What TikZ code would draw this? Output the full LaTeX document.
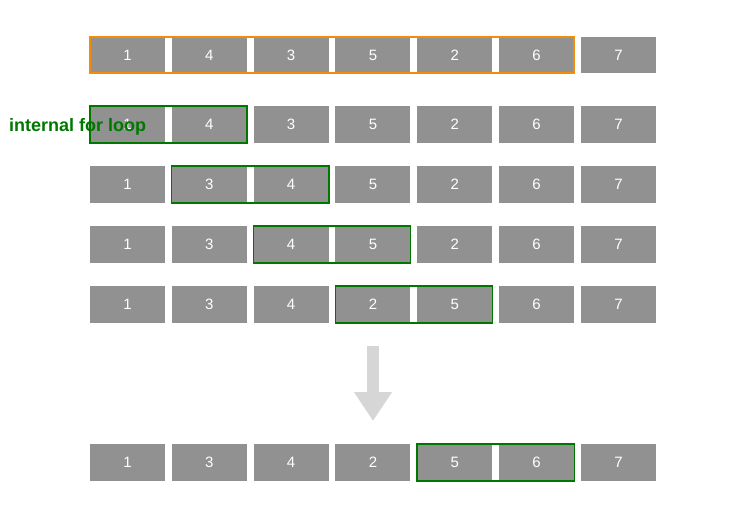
\documentclass[tikz,border=0pt]{standalone}
\usepackage{fontspec}
\setmainfont{Liberation Sans}
\usetikzlibrary{arrows.meta}

\definecolor{cellgray}{RGB}{145,145,145}
\definecolor{outerorange}{RGB}{242,140,10}
\definecolor{loopgreen}{RGB}{0,120,0}
\definecolor{arrowgray}{RGB}{214,214,214}

\tikzset{
  cell/.style={fill=cellgray, text=white, minimum width=75pt, minimum height=36.5pt,
    inner sep=0pt, font=\fontsize{15}{15}\selectfont},
  outerframe/.style={draw=outerorange, line width=2pt},
  loopframe/.style={draw=loopgreen, line width=1.5pt},
  bigarrow/.style={draw=arrowgray, line width=12pt, -{Triangle[width=36pt,length=29pt]}}
}

\begin{document}
\begin{tikzpicture}[x=1pt,y=-1pt]
		\useasboundingbox (0,0) rectangle (735,512);

		% draw rows of cells
		\foreach \r/\yy/\vals in {1/55/{1,4,3,5,2,6,7},
		                          2/124.5/{1,4,3,5,2,6,7},
		                          3/184.5/{1,3,4,5,2,6,7},
		                          4/244.5/{1,3,4,5,2,6,7},
		                          5/304.5/{1,3,4,2,5,6,7},
		                          6/462.5/{1,3,4,2,5,6,7}}
		\foreach \v [count=\i] in \vals
		\node[cell] (b\r-\i) at ({127.5+81.83*(\i-1)},\yy) {\v};

		% draw outer loop frame
		\draw[outerframe] (b1-1.north west) rectangle (b1-6.south east);

		% draw internal loop frames
		\draw[loopframe] (b2-1.north west) rectangle (b2-2.south east);
		\draw[loopframe] (b3-2.north west) rectangle (b3-3.south east);
		\draw[loopframe] (b4-3.north west) rectangle (b4-4.south east);
		\draw[loopframe] (b5-4.north west) rectangle (b5-5.south east);
		\draw[loopframe] (b6-5.north west) rectangle (b6-6.south east);

		% draw label
		\node[anchor=west, inner sep=0pt, text=loopgreen, font=\bfseries\fontsize{18}{18}\selectfont]
		  (looplabel) at (9,127) {internal for loop};

		% draw arrow
		\coordinate (arrowtop) at (373,346);
		\coordinate (arrowtip) at (373,421);
		\draw[bigarrow] (arrowtop) -- (arrowtip);
\end{tikzpicture}
\end{document}
